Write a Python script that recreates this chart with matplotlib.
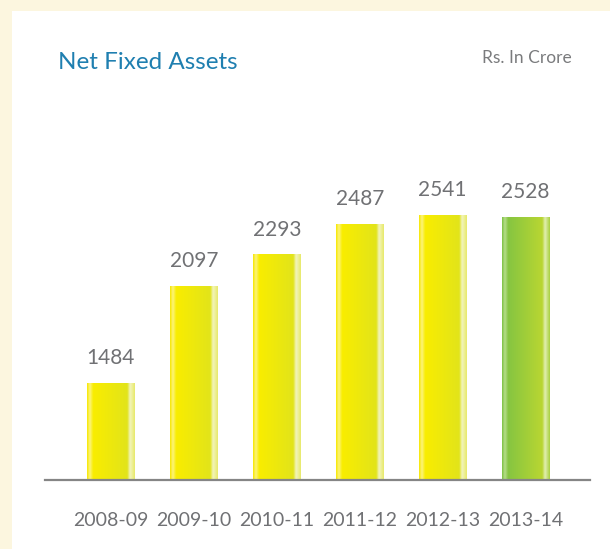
import numpy as np
import matplotlib
matplotlib.use('Agg')
import matplotlib.pyplot as plt
from matplotlib.colors import LinearSegmentedColormap
from matplotlib.patches import Rectangle

#---------------------------------------
years = ['2008-09', '2009-10', '2010-11', '2011-12', '2012-13', '2013-14']
net_fixed_assets = [1484, 2097, 2293, 2487, 2541, 2528]
#---------------------------------------

plt.rcParams['font.family'] = ['Lato', 'DejaVu Sans']

yellow = LinearSegmentedColormap.from_list('yel', [
    (0.0, '#f7e800'), (0.06, '#fcf47c'), (0.13, '#f9ed00'),
    (0.84, '#e2e41a'), (0.90, '#f2f4bd'), (1.0, '#e8ea6a')])
green = LinearSegmentedColormap.from_list('grn', [
    (0.0, '#7cc142'), (0.06, '#b6dc8a'), (0.13, '#86c541'),
    (0.84, '#b9d632'), (0.90, '#e2efb2'), (1.0, '#a9d040')])

fig = plt.figure(figsize=(6.10, 5.49), dpi=100)
fig.patch.set_facecolor('#fcf6df')
fig.patches.append(Rectangle((12 / 610, 0), 1, (549 - 11) / 549,
                             transform=fig.transFigure, facecolor='white',
                             edgecolor='none', zorder=-5))

ax = fig.add_axes([45 / 610, 69 / 549, 545 / 610, 380 / 549])
ax.set_facecolor('none')
ax.set_zorder(2)

y_lo, y_hi = 876, 3269
x = np.arange(len(years))
bars = ax.bar(x, net_fixed_assets, width=0.57, color='#eee600', zorder=2)

# gradient fill on each bar (only the visible part above the axis bottom)
grad = np.linspace(0, 1, 256).reshape(1, -1)
for i, b in enumerate(bars):
    x0 = b.get_x()
    cmap = green if i == len(bars) - 1 else yellow
    ax.imshow(grad, cmap=cmap,
              extent=[x0, x0 + b.get_width(), y_lo, b.get_height()],
              aspect='auto', zorder=3, interpolation='bilinear')
    ax.annotate(str(net_fixed_assets[i]), (x[i], net_fixed_assets[i]),
                xytext=(0, 14), textcoords='offset points', ha='center',
                va='baseline', fontsize=15, color='#707174')

ax.set_xlim(-0.795, 5.777)
ax.set_ylim(y_lo, y_hi)

for s in ['top', 'right', 'left']:
    ax.spines[s].set_visible(False)
ax.spines['bottom'].set_color('#858585')
ax.spines['bottom'].set_linewidth(1.6)
ax.spines['bottom'].set_zorder(4)
ax.set_yticks([])
ax.set_xticks(x)
ax.set_xticklabels(years, fontsize=14, color='#707174')
ax.tick_params(axis='x', length=0, pad=23)

fig.text(58 / 610, (549 - 69) / 549, 'Net Fixed Assets', fontsize=17.5,
         color='#1f7fb0', va='baseline', ha='left', zorder=3)
fig.text(572 / 610, (549 - 63) / 549, 'Rs. In Crore', fontsize=12.5,
         color='#7a7b7d', va='baseline', ha='right', zorder=3)

fig.savefig('out.png', dpi=100, facecolor=fig.get_facecolor())
